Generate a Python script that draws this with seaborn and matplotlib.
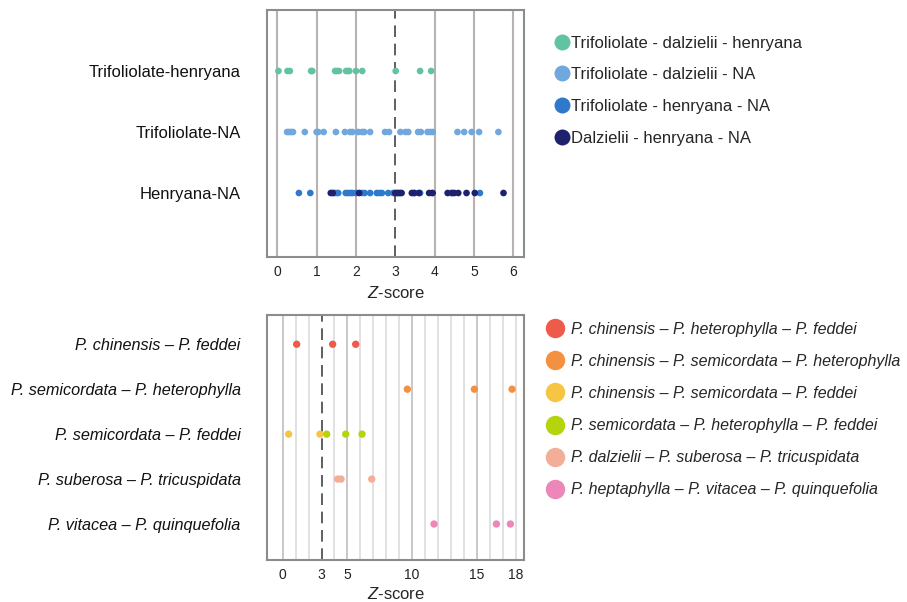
import numpy as np
import pandas as pd
import matplotlib
matplotlib.use("Agg")
import matplotlib.pyplot as plt
from matplotlib.lines import Line2D
import seaborn as sns

# ---- top panel data ----
top_rows = ["Trifoliolate-henryana", "Trifoliolate-NA", "Henryana-NA"]
top_series = ["Trifoliolate - dalzielii - henryana", "Trifoliolate - dalzielii - NA",
              "Trifoliolate - henryana - NA", "Dalzielii - henryana - NA"]
top_colors = ["#62c3a0", "#6fa7de", "#2e79cb", "#1f216c"]

tri_dal_hen = [0.03, 0.26, 0.32, 0.86, 0.89, 1.47, 1.51, 1.57, 1.75, 1.79, 1.83,
               2.00, 2.16, 3.01, 3.63, 3.91]
tri_dal_na = [0.25, 0.30, 0.35, 0.40, 0.70, 1.00, 1.04, 1.18, 1.49, 1.72, 1.85, 1.91,
              2.06, 2.16, 2.21, 2.36, 2.74, 2.84, 3.13, 3.26, 3.33, 3.58, 3.65, 3.82,
              3.89, 3.95, 4.58, 4.75, 4.94, 5.13, 5.62]
tri_hen_na = [0.55, 0.84, 1.45, 1.50, 1.55, 1.74, 1.80, 1.86, 1.91, 2.00, 2.15, 2.22,
              2.36, 2.53, 2.60, 2.66, 2.82, 2.95, 3.50, 3.63, 3.93, 4.42, 5.15]
dal_hen_na = [1.36, 1.41, 2.08, 3.00, 3.04, 3.08, 3.12, 3.16, 3.42, 3.47, 3.60, 3.86,
              3.95, 4.33, 4.45, 4.50, 4.60, 4.81, 5.02, 5.75]
top_values = [tri_dal_hen, tri_dal_na, tri_hen_na, dal_hen_na]
top_row_of = [0, 1, 2, 2]

# ---- bottom panel data ----
bot_rows = ["P. chinensis \u2013 P. feddei", "P. semicordata \u2013 P. heterophylla",
            "P. semicordata \u2013 P. feddei", "P. suberosa \u2013 P. tricuspidata",
            "P. vitacea \u2013 P. quinquefolia"]
bot_series = ["P. chinensis \u2013 P. heterophylla \u2013 P. feddei",
              "P. chinensis \u2013 P. semicordata \u2013 P. heterophylla",
              "P. chinensis \u2013 P. semicordata \u2013 P. feddei",
              "P. semicordata \u2013 P. heterophylla \u2013 P. feddei",
              "P. dalzielii \u2013 P. suberosa \u2013 P. tricuspidata",
              "P. heptaphylla \u2013 P. vitacea \u2013 P. quinquefolia"]
bot_colors = ["#ee5b4b", "#f39143", "#f6c544", "#b6d40c", "#f3ae97", "#ee87b9"]
bot_values = [[1.08, 3.86, 5.64],
              [9.63, 14.81, 17.72],
              [0.46, 2.88],
              [3.40, 4.87, 6.13],
              [4.25, 4.51, 6.88],
              [11.69, 16.51, 17.59]]
bot_row_of = [0, 1, 2, 2, 3, 4]

threshold = 3

def long_table(rows, series, values, row_of):
    recs = []
    for s, vals, r in zip(series, values, row_of):
        for v in vals:
            recs.append([rows[r], s, v])
    return pd.DataFrame(recs, columns=["pair", "triplet", "z"])

top_df = long_table(top_rows, top_series, top_values, top_row_of)
bot_df = long_table(bot_rows, bot_series, bot_values, bot_row_of)

sns.set_style("white")
plt.rcParams["font.family"] = ["Liberation Sans", "DejaVu Sans"]
plt.rcParams["mathtext.fontset"] = "custom"
plt.rcParams["mathtext.it"] = "Liberation Sans:italic"
plt.rcParams["mathtext.rm"] = "Liberation Sans"

fig = plt.figure(figsize=(9.07, 6.02), dpi=100)
ax1 = fig.add_axes([0.2944, 0.573, 0.2833, 0.4104])
ax2 = fig.add_axes([0.2944, 0.0698, 0.2833, 0.4069])

frame = "#8c8c8c"

# ---- top ----
for v in range(0, 7):
    if v != threshold:
        ax1.axvline(v, color="#b8b3b1", lw=1.5, zorder=0)
ax1.axvline(threshold, color="#444444", lw=1.2, ls=(0, (7, 4)), zorder=1)
sns.stripplot(ax=ax1, data=top_df, x="z", y="pair", hue="triplet", order=top_rows,
              hue_order=top_series, palette=top_colors, jitter=False, size=4.8,
              linewidth=0, legend=False, zorder=3)
ax1.set_xlim(-0.26, 6.27)
ax1.set_ylim(3.05, -1.0)
ax1.set_xticks(range(0, 7))
ax1.set_xlabel("$\\it{Z}$-score", fontsize=12, labelpad=4)
ax1.set_ylabel("")

# ---- bottom ----
for v in range(0, 19):
    if v != threshold:
        major = v % 5 == 0
        ax2.axvline(v, color="#c4c4c4" if major else "#dedede", lw=1.3, zorder=0)
ax2.axvline(threshold, color="#444444", lw=1.2, ls=(0, (7, 4)), zorder=1)
sns.stripplot(ax=ax2, data=bot_df, x="z", y="pair", hue="triplet", order=bot_rows,
              hue_order=bot_series, palette=bot_colors, jitter=False, size=5.3,
              linewidth=0, legend=False, zorder=3)
ax2.set_xlim(-1.21, 18.64)
ax2.set_ylim(4.8, -0.65)
ax2.set_xticks([0, 3, 5, 10, 15, 18])
ax2.set_xticks(range(0, 19), minor=True)
ax2.set_xlabel("$\\it{Z}$-score", fontsize=12, labelpad=2.5)
ax2.set_ylabel("")
for lab in ax2.get_yticklabels():
    lab.set_fontstyle("italic")

for ax in (ax1, ax2):
    for sp in ax.spines.values():
        sp.set_color(frame)
        sp.set_linewidth(1.5)
    ax.tick_params(axis="y", length=0, pad=19, labelsize=12 if ax is ax1 else 11.7,
                   labelcolor="#111111")
    ax.tick_params(axis="x", which="major", length=4, width=1, color=frame,
                   labelsize=10, labelcolor="#222222", pad=2)
    ax.tick_params(axis="x", which="minor", length=2.5, width=0.8, color="#aaaaaa")

# ---- legends ----
top_handles = [Line2D([], [], marker="o", ls="", markersize=11.5, color=c,
                      markeredgewidth=0) for c in top_colors]
fig.legend(top_handles, top_series, loc="upper left", bbox_to_anchor=(0.603, 0.952),
           frameon=False, fontsize=12, handletextpad=0.05, labelspacing=1.0,
           handlelength=1.0, borderaxespad=0)

bot_handles = [Line2D([], [], marker="o", ls="", markersize=14, color=c,
                      markeredgewidth=0) for c in bot_colors]
leg2 = fig.legend(bot_handles, bot_series, loc="upper left", bbox_to_anchor=(0.596, 0.476),
                  frameon=False, fontsize=11.5, handletextpad=0.5, labelspacing=1.07,
                  handlelength=1.0, borderaxespad=0)
for t in leg2.get_texts():
    t.set_fontstyle("italic")

fig.savefig("out.png", dpi=100, facecolor="white")
